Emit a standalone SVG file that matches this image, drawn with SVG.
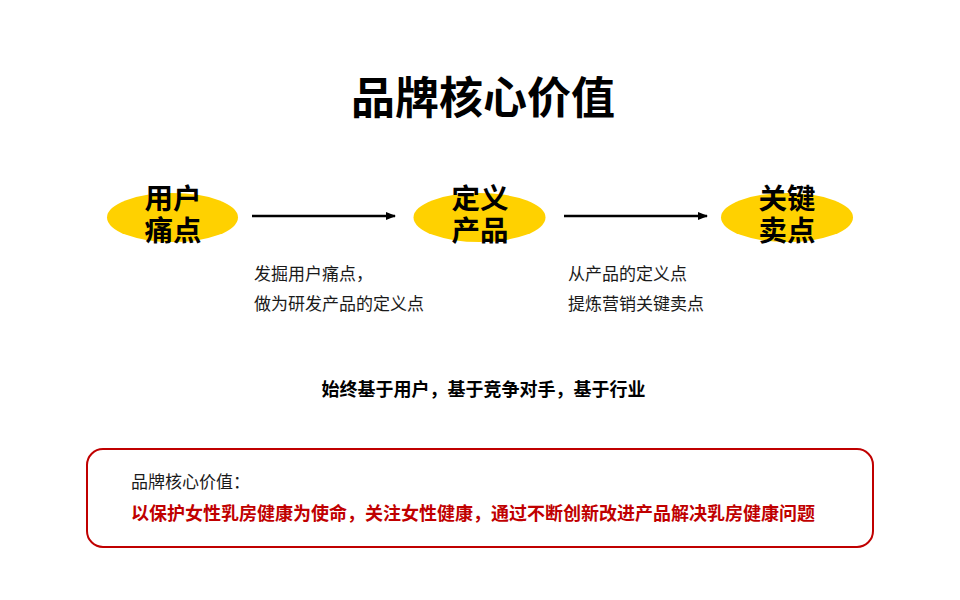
<svg xmlns="http://www.w3.org/2000/svg" width="960" height="600" viewBox="0 0 960 600">
<defs>
<marker id="ah" markerWidth="10" markerHeight="8" refX="9" refY="4" orient="auto" markerUnits="userSpaceOnUse">
<path d="M0,0 L10,4 L0,8 Z" fill="#000"/>
</marker>
<style>
text{font-family:"Noto Sans CJK SC","Noto Sans",sans-serif;}
.title{font-size:44px;font-weight:700;fill:#000;text-anchor:middle;}
.node{fill:#ffd100;}
.nt{font-size:28.5px;font-weight:700;fill:#000;text-anchor:middle;}
.desc{font-size:17px;fill:#1a1a1a;}
.mid{font-size:18px;font-weight:700;fill:#000;text-anchor:middle;}
.conn{stroke:#000;stroke-width:2.5;fill:none;}
.box{fill:#fff;stroke:#c00000;stroke-width:2;}
.lab{font-size:17px;fill:#1a1a1a;}
.red{font-size:18px;font-weight:700;fill:#c00000;}
</style>
</defs>
<rect width="960" height="600" fill="#fff"/>
<text class="title" x="483" y="114">品牌核心价值</text>
<g id="connectors">
<line class="conn" x1="252" y1="216" x2="395" y2="216" marker-end="url(#ah)"/>
<line class="conn" x1="564" y1="216" x2="707" y2="216" marker-end="url(#ah)"/>
</g>
<g id="node-user">
<ellipse class="node" cx="172.5" cy="217.5" rx="65.5" ry="24.5"/>
<text class="nt" x="173" y="209">用户</text>
<text class="nt" x="173" y="241">痛点</text>
</g>
<g id="node-product">
<ellipse class="node" cx="479.5" cy="217.5" rx="66" ry="24.5"/>
<text class="nt" x="480" y="209">定义</text>
<text class="nt" x="480" y="241">产品</text>
</g>
<g id="node-selling">
<ellipse class="node" cx="787" cy="217.5" rx="66" ry="24.5"/>
<text class="nt" x="787" y="209">关键</text>
<text class="nt" x="787" y="241">卖点</text>
</g>
<g id="desc-1">
<text class="desc" x="254" y="280">发掘用户痛点，</text>
<text class="desc" x="254" y="310">做为研发产品的定义点</text>
</g>
<g id="desc-2">
<text class="desc" x="568" y="280">从产品的定义点</text>
<text class="desc" x="568" y="310">提炼营销关键卖点</text>
</g>
<text class="mid" x="483.5" y="396">始终基于用户，基于竞争对手，基于行业</text>
<g id="value-box">
<rect class="box" x="87" y="449" width="786" height="98" rx="16" ry="16"/>
<text class="lab" x="131" y="488">品牌核心价值：</text>
<text class="red" x="131" y="520" textLength="684" lengthAdjust="spacingAndGlyphs">以保护女性乳房健康为使命，关注女性健康，通过不断创新改进产品解决乳房健康问题</text>
</g>
</svg>
